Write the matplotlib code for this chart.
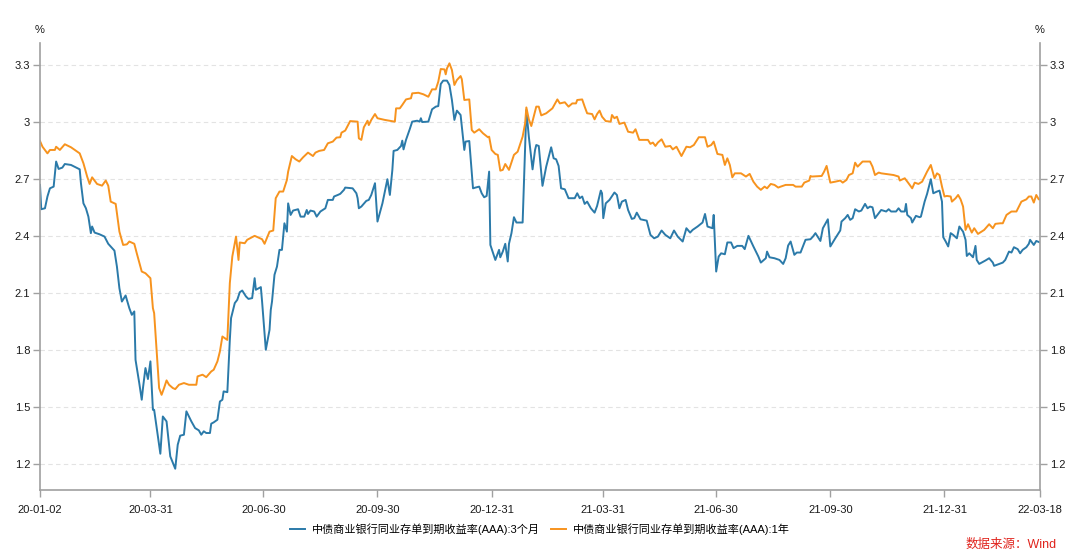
import matplotlib
matplotlib.use("Agg")
import matplotlib.pyplot as plt
import matplotlib.dates as mdates
import pandas as pd

plt.rcParams['font.family'] = ['Liberation Sans', 'Noto Sans CJK SC', 'DejaVu Sans']

# ---------------- data ----------------
dates_3m = [
    "2020-01-02", "2020-01-03", "2020-01-06", "2020-01-08", "2020-01-10", "2020-01-13", "2020-01-15",
    "2020-01-17", "2020-01-20", "2020-01-22", "2020-01-27", "2020-02-03", "2020-02-04", "2020-02-06",
    "2020-02-08", "2020-02-10", "2020-02-12", "2020-02-13", "2020-02-15", "2020-02-19", "2020-02-23",
    "2020-02-26", "2020-03-02", "2020-03-04", "2020-03-06", "2020-03-08", "2020-03-11", "2020-03-14",
    "2020-03-16", "2020-03-18", "2020-03-19", "2020-03-22", "2020-03-24", "2020-03-25", "2020-03-27",
    "2020-03-29", "2020-03-31", "2020-04-02", "2020-04-03", "2020-04-08", "2020-04-10", "2020-04-13",
    "2020-04-16", "2020-04-20", "2020-04-22", "2020-04-24", "2020-04-27", "2020-04-29", "2020-05-03",
    "2020-05-06", "2020-05-09", "2020-05-11", "2020-05-13", "2020-05-15", "2020-05-18", "2020-05-19",
    "2020-05-21", "2020-05-24", "2020-05-26", "2020-05-28", "2020-05-29", "2020-06-01", "2020-06-03",
    "2020-06-04", "2020-06-07", "2020-06-09", "2020-06-11", "2020-06-13", "2020-06-16", "2020-06-18",
    "2020-06-21", "2020-06-23", "2020-06-24", "2020-06-28", "2020-06-29", "2020-07-02", "2020-07-05",
    "2020-07-06", "2020-07-07", "2020-07-09", "2020-07-11", "2020-07-13", "2020-07-15", "2020-07-17",
    "2020-07-19", "2020-07-20", "2020-07-22", "2020-07-24", "2020-07-28", "2020-07-30", "2020-08-02",
    "2020-08-04", "2020-08-05", "2020-08-07", "2020-08-10", "2020-08-12", "2020-08-15", "2020-08-19",
    "2020-08-21", "2020-08-25", "2020-08-26", "2020-08-29", "2020-08-31", "2020-09-03", "2020-09-04",
    "2020-09-10", "2020-09-13", "2020-09-14", "2020-09-15", "2020-09-17", "2020-09-21", "2020-09-23",
    "2020-09-25", "2020-09-28", "2020-09-30", "2020-10-04", "2020-10-08", "2020-10-10", "2020-10-12",
    "2020-10-13", "2020-10-16", "2020-10-19", "2020-10-20", "2020-10-21", "2020-10-23", "2020-10-26",
    "2020-10-28", "2020-11-01", "2020-11-03", "2020-11-04", "2020-11-05", "2020-11-10", "2020-11-13",
    "2020-11-16", "2020-11-18", "2020-11-20", "2020-11-22", "2020-11-25", "2020-11-27", "2020-11-29",
    "2020-12-01", "2020-12-03", "2020-12-06", "2020-12-09", "2020-12-10", "2020-12-13", "2020-12-16",
    "2020-12-18", "2020-12-21", "2020-12-23", "2020-12-25", "2020-12-27", "2020-12-29", "2020-12-30",
    "2021-01-03", "2021-01-06", "2021-01-07", "2021-01-09", "2021-01-11", "2021-01-13", "2021-01-14",
    "2021-01-16", "2021-01-18", "2021-01-20", "2021-01-22", "2021-01-25", "2021-01-27", "2021-01-28",
    "2021-01-30", "2021-02-02", "2021-02-04", "2021-02-05", "2021-02-07", "2021-02-10", "2021-02-13",
    "2021-02-17", "2021-02-19", "2021-02-21", "2021-02-23", "2021-02-25", "2021-02-28", "2021-03-03",
    "2021-03-08", "2021-03-10", "2021-03-12", "2021-03-14", "2021-03-16", "2021-03-18", "2021-03-21",
    "2021-03-24", "2021-03-26", "2021-03-29", "2021-03-30", "2021-03-31", "2021-04-02", "2021-04-05",
    "2021-04-09", "2021-04-11", "2021-04-13", "2021-04-15", "2021-04-18", "2021-04-20", "2021-04-23",
    "2021-04-25", "2021-04-27", "2021-04-30", "2021-05-05", "2021-05-08", "2021-05-11", "2021-05-14",
    "2021-05-17", "2021-05-20", "2021-05-24", "2021-05-27", "2021-05-30", "2021-06-03", "2021-06-06",
    "2021-06-09", "2021-06-11", "2021-06-15", "2021-06-19", "2021-06-21", "2021-06-23", "2021-06-27",
    "2021-06-28", "2021-06-30", "2021-07-02", "2021-07-04", "2021-07-07", "2021-07-09", "2021-07-12",
    "2021-07-14", "2021-07-17", "2021-07-21", "2021-07-23", "2021-07-26", "2021-07-30", "2021-08-03",
    "2021-08-05", "2021-08-09", "2021-08-10", "2021-08-12", "2021-08-16", "2021-08-20", "2021-08-23",
    "2021-08-25", "2021-08-27", "2021-08-29", "2021-09-01", "2021-09-03", "2021-09-06", "2021-09-10",
    "2021-09-14", "2021-09-16", "2021-09-18", "2021-09-22", "2021-09-24", "2021-09-28", "2021-09-30",
    "2021-10-04", "2021-10-08", "2021-10-09", "2021-10-12", "2021-10-14", "2021-10-16", "2021-10-18",
    "2021-10-20", "2021-10-23", "2021-10-25", "2021-10-28", "2021-10-30", "2021-11-01", "2021-11-03",
    "2021-11-05", "2021-11-07", "2021-11-10", "2021-11-14", "2021-11-16", "2021-11-18", "2021-11-22",
    "2021-11-24", "2021-11-26", "2021-11-29", "2021-11-30", "2021-12-01", "2021-12-04", "2021-12-05",
    "2021-12-08", "2021-12-11", "2021-12-12", "2021-12-15", "2021-12-17", "2021-12-20", "2021-12-22",
    "2021-12-25", "2021-12-27", "2021-12-29", "2021-12-30", "2022-01-01", "2022-01-03", "2022-01-05",
    "2022-01-07", "2022-01-10", "2022-01-12", "2022-01-15", "2022-01-17", "2022-01-18", "2022-01-20",
    "2022-01-23", "2022-01-25", "2022-01-26", "2022-01-28", "2022-02-02", "2022-02-05", "2022-02-08",
    "2022-02-09", "2022-02-13", "2022-02-16", "2022-02-18", "2022-02-21", "2022-02-23", "2022-02-25",
    "2022-02-28", "2022-03-02", "2022-03-04", "2022-03-07", "2022-03-09", "2022-03-10", "2022-03-13",
    "2022-03-15", "2022-03-18",
]
yield_3m = [
    2.669, 2.541, 2.546, 2.608, 2.651, 2.660, 2.792,
    2.753, 2.760, 2.779, 2.774, 2.751, 2.678, 2.572,
    2.546, 2.502, 2.415, 2.450, 2.418, 2.409, 2.397,
    2.359, 2.323, 2.239, 2.125, 2.055, 2.087, 2.020,
    1.985, 2.003, 1.748, 1.626, 1.538, 1.600, 1.705,
    1.647, 1.740, 1.485, 1.485, 1.254, 1.450, 1.424,
    1.240, 1.175, 1.301, 1.349, 1.354, 1.477, 1.424,
    1.389, 1.377, 1.354, 1.372, 1.363, 1.363, 1.412,
    1.419, 1.433, 1.529, 1.538, 1.582, 1.578, 1.853,
    1.968, 2.047, 2.064, 2.104, 2.113, 2.082, 2.069,
    2.073, 2.178, 2.117, 2.131, 2.055, 1.801, 1.906,
    2.011, 2.055, 2.196, 2.239, 2.327, 2.327, 2.467,
    2.423, 2.572, 2.511, 2.534, 2.541, 2.502, 2.502,
    2.537, 2.516, 2.534, 2.529, 2.502, 2.529, 2.546,
    2.590, 2.590, 2.608, 2.616, 2.622, 2.643, 2.655,
    2.651, 2.625, 2.599, 2.546, 2.555, 2.585, 2.590,
    2.616, 2.678, 2.476, 2.572, 2.699, 2.616, 2.748,
    2.848, 2.853, 2.874, 2.902, 2.856, 2.906, 2.962,
    3.002, 3.007, 3.002, 3.020, 3.000, 3.002, 3.067,
    3.081, 3.084, 3.200, 3.218, 3.218, 3.195, 3.116,
    3.011, 3.060, 3.037, 2.853, 2.897, 2.900, 2.651,
    2.655, 2.660, 2.625, 2.604, 2.611, 2.739, 2.353,
    2.274, 2.327, 2.288, 2.318, 2.359, 2.266, 2.359,
    2.415, 2.499, 2.471, 2.471, 2.471, 2.870, 3.063,
    2.923, 2.751, 2.853, 2.879, 2.874, 2.664, 2.765,
    2.867, 2.809, 2.804, 2.769, 2.651, 2.646, 2.599,
    2.599, 2.625, 2.599, 2.608, 2.569, 2.581, 2.546,
    2.523, 2.558, 2.639, 2.625, 2.494, 2.572, 2.590,
    2.629, 2.616, 2.546, 2.581, 2.590, 2.537, 2.490,
    2.494, 2.523, 2.488, 2.481, 2.406, 2.388, 2.397,
    2.429, 2.406, 2.388, 2.429, 2.397, 2.371, 2.441,
    2.418, 2.432, 2.450, 2.471, 2.516, 2.450, 2.441,
    2.511, 2.213, 2.292, 2.309, 2.304, 2.366, 2.366,
    2.336, 2.348, 2.348, 2.331, 2.401, 2.345, 2.292,
    2.260, 2.283, 2.318, 2.288, 2.283, 2.274, 2.253,
    2.283, 2.350, 2.371, 2.301, 2.313, 2.313, 2.380,
    2.383, 2.397, 2.415, 2.374, 2.441, 2.488, 2.345,
    2.388, 2.429, 2.476, 2.494, 2.511, 2.485, 2.494,
    2.541, 2.529, 2.534, 2.569, 2.546, 2.555, 2.551,
    2.494, 2.511, 2.537, 2.529, 2.541, 2.529, 2.529,
    2.546, 2.529, 2.529, 2.569, 2.511, 2.494, 2.471,
    2.506, 2.499, 2.502, 2.581, 2.622, 2.699, 2.625,
    2.634, 2.639, 2.581, 2.394, 2.371, 2.345, 2.415,
    2.406, 2.388, 2.450, 2.423, 2.380, 2.295, 2.309,
    2.288, 2.348, 2.274, 2.253, 2.271, 2.283, 2.260,
    2.243, 2.253, 2.260, 2.274, 2.318, 2.313, 2.341,
    2.331, 2.309, 2.327, 2.341, 2.359, 2.380, 2.353,
    2.374, 2.366,
]

dates_1y = [
    "2020-01-02", "2020-01-04", "2020-01-08", "2020-01-10", "2020-01-14", "2020-01-15", "2020-01-18",
    "2020-01-22", "2020-01-27", "2020-02-03", "2020-02-06", "2020-02-09", "2020-02-11", "2020-02-13",
    "2020-02-17", "2020-02-21", "2020-02-24", "2020-02-26", "2020-02-28", "2020-03-03", "2020-03-06",
    "2020-03-09", "2020-03-12", "2020-03-14", "2020-03-18", "2020-03-20", "2020-03-24", "2020-03-27",
    "2020-03-31", "2020-04-02", "2020-04-03", "2020-04-05", "2020-04-07", "2020-04-09", "2020-04-11",
    "2020-04-13", "2020-04-15", "2020-04-18", "2020-04-20", "2020-04-23", "2020-04-27", "2020-05-01",
    "2020-05-07", "2020-05-08", "2020-05-12", "2020-05-15", "2020-05-19", "2020-05-21", "2020-05-24",
    "2020-05-26", "2020-05-28", "2020-06-01", "2020-06-03", "2020-06-05", "2020-06-08", "2020-06-10",
    "2020-06-11", "2020-06-15", "2020-06-17", "2020-06-23", "2020-06-27", "2020-06-29", "2020-07-01",
    "2020-07-05", "2020-07-08", "2020-07-10", "2020-07-13", "2020-07-16", "2020-07-19", "2020-07-20",
    "2020-07-23", "2020-07-26", "2020-07-29", "2020-08-01", "2020-08-05", "2020-08-09", "2020-08-11",
    "2020-08-14", "2020-08-18", "2020-08-21", "2020-08-25", "2020-08-28", "2020-08-31", "2020-09-01",
    "2020-09-04", "2020-09-08", "2020-09-14", "2020-09-15", "2020-09-17", "2020-09-19", "2020-09-22",
    "2020-09-23", "2020-09-25", "2020-09-28", "2020-09-30", "2020-10-06", "2020-10-14", "2020-10-15",
    "2020-10-18", "2020-10-20", "2020-10-23", "2020-10-27", "2020-10-28", "2020-11-02", "2020-11-06",
    "2020-11-10", "2020-11-13", "2020-11-16", "2020-11-18", "2020-11-20", "2020-11-23", "2020-11-24",
    "2020-11-25", "2020-11-27", "2020-11-29", "2020-12-01", "2020-12-03", "2020-12-06", "2020-12-07",
    "2020-12-09", "2020-12-13", "2020-12-15", "2020-12-17", "2020-12-21", "2020-12-24", "2020-12-28",
    "2020-12-29", "2020-12-31", "2021-01-03", "2021-01-05", "2021-01-07", "2021-01-09", "2021-01-11",
    "2021-01-14", "2021-01-18", "2021-01-21", "2021-01-25", "2021-01-27", "2021-01-28", "2021-01-30",
    "2021-02-01", "2021-02-05", "2021-02-07", "2021-02-09", "2021-02-13", "2021-02-18", "2021-02-22",
    "2021-02-24", "2021-02-28", "2021-03-03", "2021-03-06", "2021-03-09", "2021-03-10", "2021-03-14",
    "2021-03-16", "2021-03-18", "2021-03-22", "2021-03-24", "2021-03-26", "2021-03-28", "2021-03-30",
    "2021-04-02", "2021-04-06", "2021-04-07", "2021-04-09", "2021-04-11", "2021-04-13", "2021-04-17",
    "2021-04-20", "2021-04-24", "2021-04-26", "2021-04-29", "2021-05-06", "2021-05-08", "2021-05-10",
    "2021-05-12", "2021-05-14", "2021-05-17", "2021-05-20", "2021-05-24", "2021-05-26", "2021-05-29",
    "2021-06-02", "2021-06-06", "2021-06-09", "2021-06-12", "2021-06-16", "2021-06-21", "2021-06-23",
    "2021-06-26", "2021-06-28", "2021-07-01", "2021-07-05", "2021-07-07", "2021-07-09", "2021-07-11",
    "2021-07-13", "2021-07-15", "2021-07-20", "2021-07-24", "2021-07-27", "2021-07-30", "2021-08-02",
    "2021-08-05", "2021-08-08", "2021-08-10", "2021-08-13", "2021-08-16", "2021-08-19", "2021-08-21",
    "2021-08-25", "2021-08-31", "2021-09-02", "2021-09-07", "2021-09-09", "2021-09-13", "2021-09-14",
    "2021-09-15", "2021-09-23", "2021-09-25", "2021-09-27", "2021-09-30", "2021-10-04", "2021-10-08",
    "2021-10-10", "2021-10-13", "2021-10-15", "2021-10-18", "2021-10-20", "2021-10-22", "2021-10-26",
    "2021-11-01", "2021-11-03", "2021-11-05", "2021-11-08", "2021-11-10", "2021-11-20", "2021-11-24",
    "2021-11-25", "2021-11-29", "2021-12-02", "2021-12-05", "2021-12-07", "2021-12-10", "2021-12-13",
    "2021-12-17", "2021-12-20", "2021-12-23", "2021-12-25", "2021-12-27", "2021-12-29", "2021-12-31",
    "2022-01-02", "2022-01-05", "2022-01-06", "2022-01-09", "2022-01-11", "2022-01-13", "2022-01-15",
    "2022-01-17", "2022-01-19", "2022-01-22", "2022-01-24", "2022-01-27", "2022-02-01", "2022-02-05",
    "2022-02-08", "2022-02-10", "2022-02-14", "2022-02-16", "2022-02-19", "2022-02-23", "2022-02-27",
    "2022-03-03", "2022-03-07", "2022-03-09", "2022-03-11", "2022-03-13", "2022-03-15", "2022-03-17",
    "2022-03-18",
]
yield_1y = [
    2.900, 2.870, 2.835, 2.853, 2.853, 2.870, 2.853,
    2.883, 2.867, 2.835, 2.783, 2.713, 2.674, 2.709,
    2.674, 2.665, 2.692, 2.665, 2.581, 2.569, 2.423,
    2.353, 2.356, 2.371, 2.359, 2.309, 2.213, 2.204,
    2.178, 2.020, 1.994, 1.801, 1.600, 1.564, 1.600,
    1.640, 1.617, 1.600, 1.594, 1.617, 1.626, 1.617,
    1.617, 1.661, 1.670, 1.657, 1.687, 1.696, 1.740,
    1.792, 1.871, 1.853, 2.152, 2.292, 2.397, 2.274,
    2.366, 2.362, 2.380, 2.401, 2.389, 2.383, 2.359,
    2.423, 2.429, 2.599, 2.634, 2.634, 2.695, 2.739,
    2.821, 2.804, 2.792, 2.814, 2.839, 2.821, 2.839,
    2.848, 2.853, 2.888, 2.897, 2.918, 2.920, 2.944,
    2.955, 3.005, 3.002, 2.914, 2.906, 2.972, 3.007,
    2.984, 3.011, 3.042, 3.020, 3.011, 3.002, 3.072,
    3.072, 3.090, 3.119, 3.125, 3.151, 3.154, 3.146,
    3.133, 3.172, 3.172, 3.212, 3.279, 3.277, 3.251,
    3.282, 3.309, 3.274, 3.195, 3.221, 3.242, 3.225,
    3.116, 3.119, 2.958, 2.944, 2.962, 2.941, 2.920,
    2.923, 2.853, 2.832, 2.827, 2.744, 2.748, 2.779,
    2.748, 2.827, 2.844, 2.923, 2.993, 3.077, 3.014,
    2.979, 3.081, 3.081, 3.035, 3.046, 3.072, 3.119,
    3.098, 3.104, 3.081, 3.098, 3.098, 3.116, 3.119,
    3.081, 3.046, 3.042, 3.014, 3.042, 3.060, 3.028,
    3.005, 3.002, 3.037, 3.020, 3.028, 2.990, 2.997,
    2.949, 2.944, 2.962, 2.906, 2.906, 2.885, 2.892,
    2.874, 2.892, 2.909, 2.870, 2.874, 2.856, 2.870,
    2.821, 2.870, 2.867, 2.879, 2.920, 2.920, 2.870,
    2.879, 2.897, 2.832, 2.827, 2.774, 2.809, 2.774,
    2.709, 2.730, 2.730, 2.713, 2.727, 2.686, 2.660,
    2.643, 2.660, 2.651, 2.674, 2.669, 2.655, 2.660,
    2.669, 2.669, 2.660, 2.660, 2.681, 2.692, 2.716,
    2.713, 2.716, 2.739, 2.769, 2.681, 2.686, 2.692,
    2.681, 2.695, 2.721, 2.730, 2.786, 2.765, 2.792,
    2.792, 2.765, 2.721, 2.734, 2.730, 2.721, 2.713,
    2.692, 2.704, 2.678, 2.651, 2.681, 2.674, 2.686,
    2.739, 2.774, 2.704, 2.730, 2.721, 2.660, 2.608,
    2.611, 2.608, 2.581, 2.599, 2.616, 2.593, 2.555,
    2.432, 2.462, 2.418, 2.441, 2.411, 2.432, 2.462,
    2.441, 2.464, 2.467, 2.467, 2.511, 2.529, 2.529,
    2.581, 2.593, 2.608, 2.608, 2.576, 2.616, 2.593,
    2.593,
]

xtick_dates = ["2020-01-02", "2020-03-31", "2020-06-30", "2020-09-30", "2020-12-31",
               "2021-03-31", "2021-06-30", "2021-09-30", "2021-12-31", "2022-03-18"]
yticks = [1.2, 1.5, 1.8, 2.1, 2.4, 2.7, 3.0, 3.3]
ytick_labels = ["1.2", "1.5", "1.8", "2.1", "2.4", "2.7", "3", "3.3"]

label_3m = "中债商业银行同业存单到期收益率(AAA):3个月"
label_1y = "中债商业银行同业存单到期收益率(AAA):1年"
source_text = "数据来源：Wind"

# ---------------- plot ----------------
c_blue = "#2b7aa9"
c_orange = "#f7931e"
axis_gray = "#a0a0a0"

fig = plt.figure(figsize=(10.8, 5.6), dpi=100)
ax = fig.add_axes([40 / 1080, 70 / 560, 1000 / 1080, 447 / 560])

x3 = pd.to_datetime(dates_3m)
x1 = pd.to_datetime(dates_1y)
ax.plot(x3, yield_3m, color=c_blue, lw=1.4, label=label_3m, solid_joinstyle="round")
ax.plot(x1, yield_1y, color=c_orange, lw=1.4, label=label_1y, solid_joinstyle="round")

ax.set_xlim(pd.Timestamp(xtick_dates[0]), pd.Timestamp(xtick_dates[-1]))
ax.set_ylim(1.063, 3.416)

ax.set_xticks(pd.to_datetime(xtick_dates))
ax.xaxis.set_major_formatter(mdates.DateFormatter("%y-%m-%d"))
ax.set_yticks(yticks)
ax.set_yticklabels(ytick_labels)

ax.yaxis.grid(True, linestyle=(0, (4, 3)), color="#e3e3e3", lw=0.8)
ax.set_axisbelow(True)

for side in ["left", "right", "bottom"]:
    ax.spines[side].set_color(axis_gray)
    ax.spines[side].set_linewidth(1.2)
ax.spines["top"].set_visible(False)

ax.tick_params(axis="both", colors=axis_gray, labelcolor="#1a1a1a", labelsize=8,
               length=5, width=1)
ax.tick_params(axis="y", left=True, right=True, labelleft=True, labelright=True, pad=2)
ax.tick_params(axis="x", pad=6)

fig.text(40 / 1080, 1 - 30 / 560, "%", ha="center", va="center", fontsize=8, color="#1a1a1a")
fig.text(1040 / 1080, 1 - 30 / 560, "%", ha="center", va="center", fontsize=8, color="#1a1a1a")

fig.legend(loc="center", bbox_to_anchor=(0.5, 1 - 529 / 560), ncol=2, frameon=False,
           fontsize=8, handlelength=1.35, handletextpad=0.6, columnspacing=1.0)

fig.text(1057 / 1080, 1 - 545 / 560, source_text, ha="right", va="center",
         fontsize=9, color="#e0231c")

fig.savefig("out.png", dpi=100)
